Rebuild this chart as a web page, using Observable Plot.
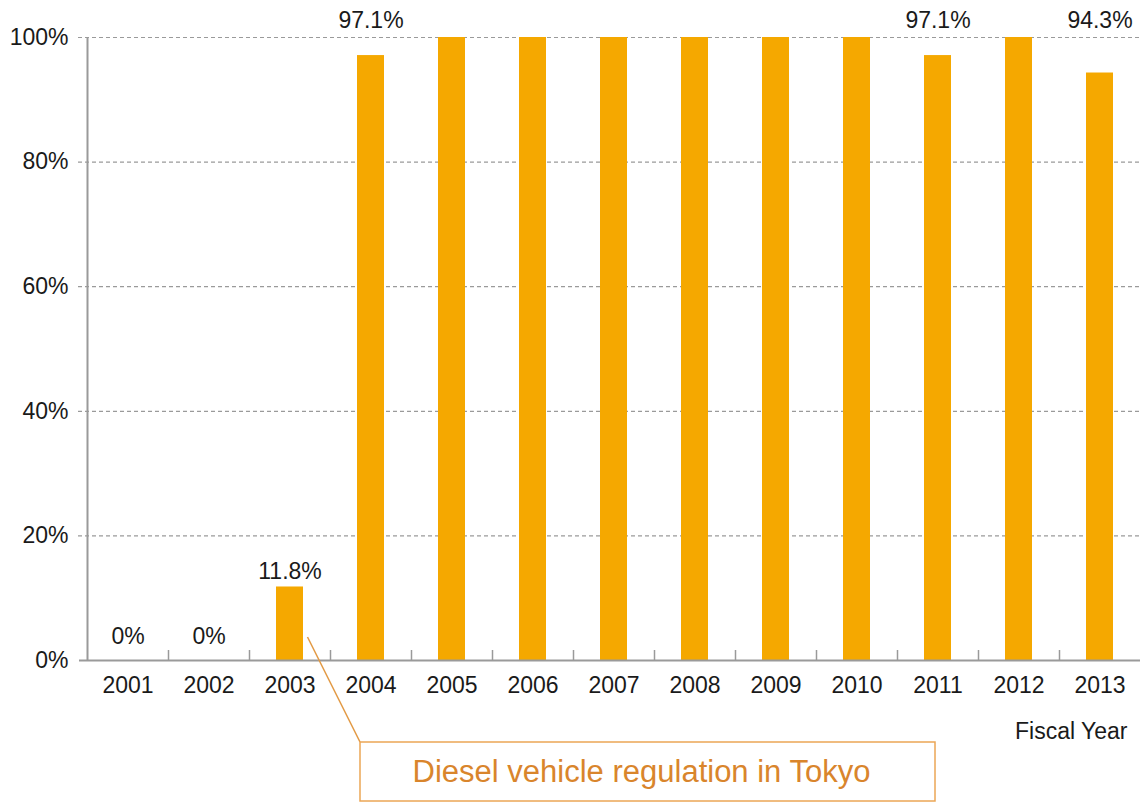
<!DOCTYPE html>
<html>
<head>
<meta charset="utf-8">
<script src="https://cdn.jsdelivr.net/npm/d3@7"></script>
<script src="https://cdn.jsdelivr.net/npm/@observablehq/plot@0.6"></script>
<style>
  html, body { margin: 0; padding: 0; background: #fff; }
  #chart { position: relative; width: 1142px; height: 803px; }
</style>
</head>
<body>
<div id="chart"></div>
<script>
// ---- data ----
const years = ["2001","2002","2003","2004","2005","2006","2007","2008","2009","2010","2011","2012","2013"];
const values = [0, 0, 0.118, 0.971, 1.0, 1.0, 1.0, 1.0, 1.0, 1.0, 0.971, 1.0, 0.943];
const labelYears = ["2001","2002","2003","2004","2011","2013"];
const yTicks = [0, 0.2, 0.4, 0.6, 0.8, 1.0];
const xAxisLabel = "Fiscal Year";
const annotationYear = "2003";
const annotationText = "Diesel vehicle regulation in Tokyo";

const data = years.map((y, i) => ({year: y, value: values[i]}));
const labelled = data.filter(d => labelYears.includes(d.year));

// ---- layout ----
const W = 1142, H = 803;
const mL = 87, mR = 2, mT = 37, mB = 143;
const step = (W - mL - mR) / years.length;
const barInset = (step - 27) / 2;
const font = "'Liberation Sans', Arial, Helvetica, sans-serif";
const barColor = "#F5A800";
const gridColor = "#9a9a9a";

const chart = Plot.plot({
  width: W,
  height: H,
  marginLeft: mL,
  marginRight: mR,
  marginTop: mT,
  marginBottom: mB,
  style: {fontFamily: font, fontSize: "23px", color: "#1a1a1a", background: "#fff"},
  x: {type: "band", domain: years, padding: 0, tickSize: 0, tickPadding: 16, label: null},
  y: {domain: [0, 1], ticks: yTicks, tickFormat: d3.format(".0%"), tickSize: 0, tickPadding: 19, label: null},
  marks: [
    // dashed gridlines
    Plot.ruleY(yTicks.filter(t => t > 0), {stroke: gridColor, strokeDasharray: "4,3", strokeWidth: 1.2, insetLeft: -9}),
    // y axis line
    Plot.ruleX([years[0]], {dx: -step / 2, stroke: gridColor, strokeWidth: 2}),
    // bars
    Plot.barY(data, {x: "year", y: "value", fill: barColor, insetLeft: barInset, insetRight: barInset}),
    // baseline
    Plot.ruleY([0], {stroke: gridColor, strokeWidth: 2, insetLeft: -8}),
    // x tick marks between categories
    Plot.ruleX(years.slice(1), {x: d => d, dx: -step / 2, y1: 0, y2: 0, insetTop: -10, stroke: gridColor, strokeWidth: 1.5}),
    // value labels
    Plot.text(labelled.filter(d => d.value === 0), {x: "year", y: "value", text: d => d3.format(".0%")(d.value), dy: -24, fill: "#1a1a1a"}),
    Plot.text(labelled.filter(d => d.value > 0 && d.value < 0.5), {x: "year", y: "value", text: d => d3.format(".1%")(d.value), dy: -15, fill: "#1a1a1a"}),
    Plot.text(labelled.filter(d => d.value >= 0.5), {x: "year", y: () => 1, text: d => d3.format(".1%")(d.value), dy: -17, fill: "#1a1a1a"}),
    // axis title
    Plot.text([xAxisLabel], {frameAnchor: "bottom-right", text: d => d, textAnchor: "end", dx: -13, dy: 78, fill: "#1a1a1a"})
  ]
});

// ---- annotation callout, positioned from the plot's own scales ----
const xs = chart.scale("x");
const ys = chart.scale("y");
const cx = xs.apply(annotationYear) + xs.bandwidth / 2;
const base = ys.apply(0);
const svg = d3.select(chart);
const g = svg.append("g");
const boxX = cx + 70.5, boxY = base + 82, boxW = 575, boxH = 59;
g.append("line")
  .attr("x1", cx + 18).attr("y1", base - 23)
  .attr("x2", boxX).attr("y2", boxY)
  .attr("stroke", "#E39A45").attr("stroke-width", 1.5);
g.append("rect")
  .attr("x", boxX).attr("y", boxY).attr("width", boxW).attr("height", boxH)
  .attr("fill", "#fff").attr("stroke", "#EBA656").attr("stroke-width", 1.5);
g.append("text")
  .attr("x", boxX + boxW / 2 - 6).attr("y", boxY + boxH / 2)
  .attr("dy", "0.35em")
  .attr("text-anchor", "middle")
  .attr("font-size", "31px")
  .attr("fill", "#D9852C")
  .text(annotationText);

document.getElementById("chart").appendChild(chart);
</script>
</body>
</html>
